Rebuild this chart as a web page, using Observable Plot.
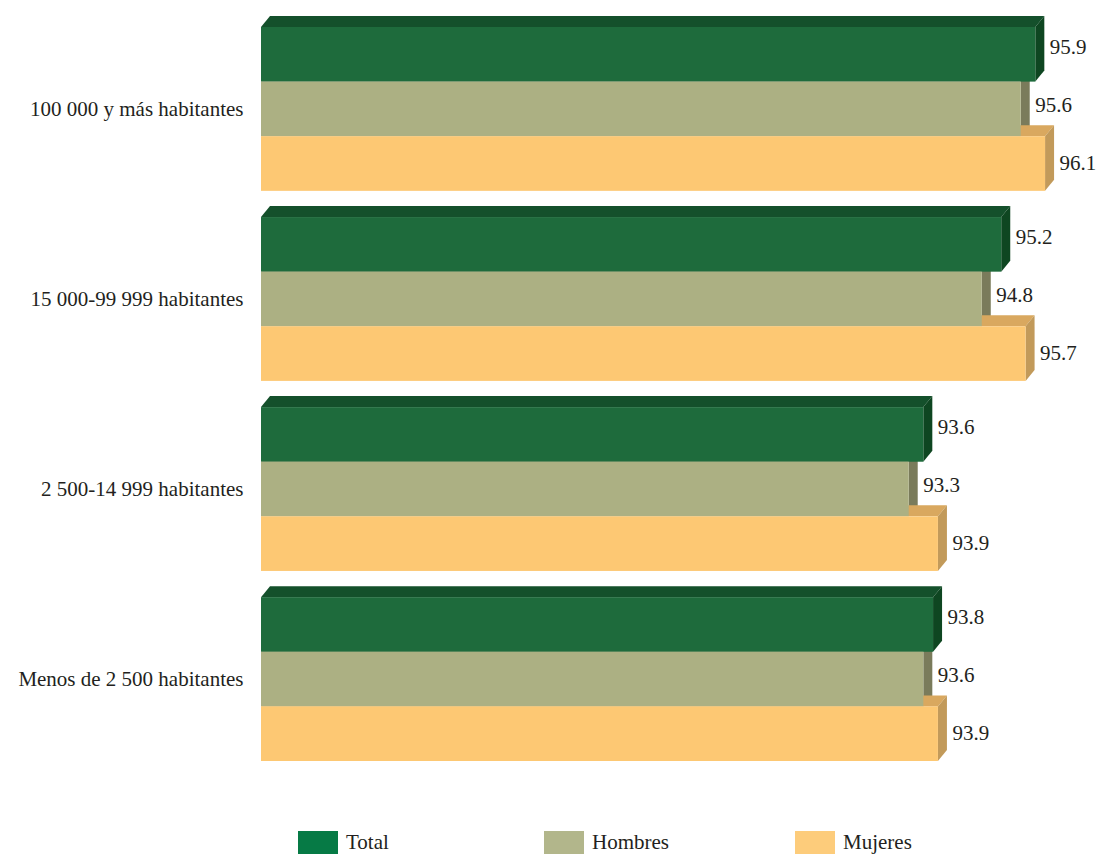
<!DOCTYPE html>
<html>
<head>
<meta charset="utf-8">
<script src="https://cdn.jsdelivr.net/npm/d3@7"></script>
<script src="https://cdn.jsdelivr.net/npm/@observablehq/plot@0.6"></script>
<style>
  html, body { margin: 0; padding: 0; background: #fff; }
  #chart svg { display: block; }
  .legend { position: relative; height: 57px; font-family: "Liberation Serif", "Times New Roman", Times, Tinos, "Noto Serif", "DejaVu Serif", Georgia, serif; font-size: 21px; color: #231f20; }
  .item { position: absolute; top: 30px; display: flex; align-items: center; }
  .sw { width: 40px; height: 23px; margin-right: 8px; }
</style>
</head>
<body>
<div id="chart"></div>
<div class="legend" id="legend"></div>
<script>
// ---- data ----
const categories = ["100 000 y más habitantes", "15 000-99 999 habitantes", "2 500-14 999 habitantes", "Menos de 2 500 habitantes"];
const series = ["Total", "Hombres", "Mujeres"];
const total   = [95.9, 95.2, 93.6, 93.8];
const hombres = [95.6, 94.8, 93.3, 93.6];
const mujeres = [96.1, 95.7, 93.9, 93.9];

// ---- styles ----
const frontColors = ["#1e6b3c", "#acb083", "#fdc873"];
const topColors   = ["#14502b", "#8f926b", "#d9a85f"];
const sideColors  = ["#0e4621", "#7a7b5b", "#c29a5a"];
const legendColors = ["#067a45", "#b2b68b", "#fdcc7b"];
const FONT = '"Liberation Serif", "Times New Roman", Times, Tinos, "Noto Serif", "DejaVu Serif", Georgia, serif';
const XMIN = 80, XMAX = 97;
const GROUP = 3.48;      // group step in bar units
const DX = 9, DY = 11;   // 3D depth in px
const labelDy = [-8, -4, -1];

const valuesBySeries = [total, hombres, mujeres];
const rows = [];
categories.forEach((c, i) => {
  series.forEach((s, j) => {
    const y1 = i * GROUP + j;
    rows.push({category: c, series: s, si: j, value: valuesBySeries[j][i], y1, y2: y1 + 1});
  });
});
const catRows = categories.map((c, i) => ({category: c, yc: i * GROUP + 1.5}));

function depthFaces(index, scales) {
  const x = scales.x, y = scales.y;
  const g = d3.create("svg:g");
  for (const r of rows) {
    const x0 = x(XMIN), x1 = x(r.value), yt = y(r.y1), yb = y(r.y2);
    g.append("polygon")
      .attr("points", [[x0, yt], [x0 + DX, yt - DY], [x1 + DX, yt - DY], [x1, yt]].map(p => p.join(",")).join(" "))
      .attr("fill", topColors[r.si]);
    g.append("polygon")
      .attr("points", [[x1, yt], [x1 + DX, yt - DY], [x1 + DX, yb - DY], [x1, yb]].map(p => p.join(",")).join(" "))
      .attr("fill", sideColors[r.si]);
  }
  return g.node();
}

const plot = Plot.plot({
  width: 1101,
  height: 800,
  marginLeft: 261,
  marginRight: 12,
  marginTop: 0,
  marginBottom: 0,
  style: {fontFamily: FONT, fontSize: "21px", color: "#231f20", background: "#fff"},
  x: {domain: [XMIN, XMAX], range: [261, 261 + (XMAX - XMIN) * 48.7], axis: null},
  y: {domain: [0, 3 * GROUP + 3], range: [27, 761], axis: null},
  color: {domain: series, range: frontColors},
  marks: [
    depthFaces,
    Plot.rectX(rows, {x1: () => XMIN, x2: "value", y1: "y1", y2: "y2", fill: "series"}),
    ...series.map((s, j) => Plot.text(rows.filter(r => r.si === j), {
      x: "value", y: r => (r.y1 + r.y2) / 2, text: r => r.value.toFixed(1),
      dx: 14, dy: labelDy[j], textAnchor: "start", fontSize: 21, fontFamily: FONT, fill: "#231f20"
    })),
    Plot.text(catRows, {x: () => XMIN, y: "yc", text: "category", dx: -18, textAnchor: "end", fontSize: 21, fontFamily: FONT, fill: "#231f20"})
  ]
});
document.getElementById("chart").appendChild(plot);

const legendX = [298, 544, 795];
const leg = document.getElementById("legend");
series.forEach((s, j) => {
  const it = document.createElement("div");
  it.className = "item";
  it.style.left = legendX[j] + "px";
  it.innerHTML = `<div class="sw" style="background:${legendColors[j]}"></div><span>${s}</span>`;
  leg.appendChild(it);
});
</script>
</body>
</html>
